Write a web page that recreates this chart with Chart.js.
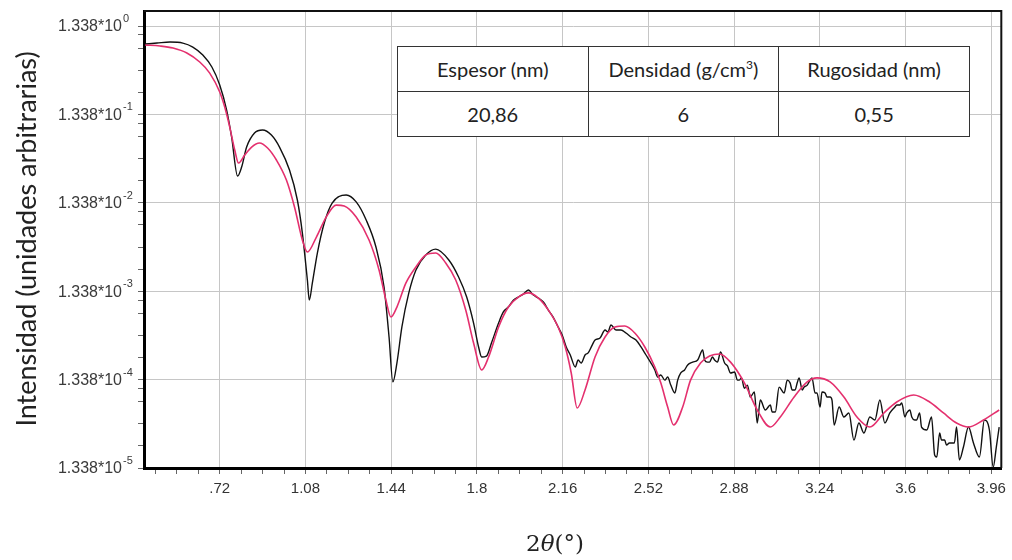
<!DOCTYPE html>
<html>
<head>
<meta charset="utf-8">
<script src="https://cdn.jsdelivr.net/npm/chart.js@4.4.0/dist/chart.umd.min.js"></script>
<style>
  body { margin: 0; background: #fff; }
  #wrap { position: relative; width: 1012px; height: 560px; }
  #props {
    position: absolute; left: 397px; top: 46px; width: 573px; height: 91px;
    border-collapse: collapse; background: #fff;
    font-family: Lato, "Open Sans", sans-serif; font-size: 20px; color: #222;
  }
  #props td { border: 1.5px solid #333; text-align: center; padding: 0; width: 191px; }
  #props sup { font-size: 12px; vertical-align: 8px; line-height: 0; }
</style>
</head>
<body>
<div id="wrap">
  <canvas id="myChart" width="1012" height="560"></canvas>
  <table id="props"></table>
</div>
<script>
//Selecting Elements
const ctx = document.getElementById("myChart").getContext("2d");
const propsTable = document.getElementById("props");

//Axis setup
const xTickLabels = [0.72, 1.08, 1.44, 1.8, 2.16, 2.52, 2.88, 3.24, 3.6, 3.96];
const xMinorStep = 0.09;
const xRange = [0.402, 4.002];
const yMantissa = 1.338;
const yExponents = [0, -1, -2, -3, -4, -5];
const yMax = 1.98;

//Fitted layer
const tableHeaders = ["Espesor (nm)", "Densidad (g/cm<sup>3</sup>)", "Rugosidad (nm)"];
const tableValues = ["20,86", "6", "0,55"];

//Simulated curve (fit)
const fitX = [
  0.407, 0.469, 0.524, 0.582, 0.636, 0.678, 0.720, 0.741, 0.762, 0.783,
  0.799, 0.825, 0.854, 0.887, 0.921, 0.958, 1.000, 1.034, 1.067, 1.088,
  1.126, 1.167, 1.209, 1.243, 1.293, 1.347, 1.389, 1.418, 1.439, 1.464,
  1.502, 1.544, 1.585, 1.627, 1.669, 1.711, 1.753, 1.786, 1.820, 1.849,
  1.891, 1.932, 1.974, 2.016, 2.058, 2.100, 2.141, 2.171, 2.196, 2.221,
  2.254, 2.296, 2.338, 2.380, 2.421, 2.463, 2.505, 2.547, 2.572, 2.601,
  2.626, 2.664, 2.697, 2.739, 2.777, 2.819, 2.865, 2.923, 2.977, 3.032,
  3.074, 3.132, 3.187, 3.228, 3.283, 3.341, 3.396, 3.450, 3.509, 3.563,
  3.634, 3.701, 3.759, 3.814, 3.864, 3.927, 3.993
];
const fitY = [
  0.816, 0.795, 0.754, 0.663, 0.524, 0.393, 0.240, 0.162, 0.0963, 0.0529,
  0.0377, 0.0465, 0.0572, 0.0635, 0.0558, 0.0408, 0.0242, 0.0120, 0.00508, 0.00371,
  0.00549, 0.00923, 0.0126, 0.0123, 0.00923, 0.00508, 0.00233, 0.00106, 0.000683, 0.000886,
  0.00166, 0.00252, 0.00344, 0.00362, 0.00279, 0.00179, 0.000819, 0.000347, 0.000172, 0.000241,
  0.000527, 0.000886, 0.00115, 0.00128, 0.00112, 0.000819, 0.000527, 0.000313, 0.000159, 0.0000639,
  0.000102, 0.000241, 0.000406, 0.000527, 0.000540, 0.000450, 0.000313, 0.000186, 0.000123, 0.0000655,
  0.0000410, 0.0000655, 0.000132, 0.000206, 0.000247, 0.000261, 0.000211, 0.000123, 0.0000606, 0.0000389,
  0.0000505, 0.0000850, 0.000126, 0.000140, 0.000126, 0.0000850, 0.0000505, 0.0000389, 0.0000561, 0.0000747,
  0.0000896, 0.0000747, 0.0000561, 0.0000432, 0.0000389, 0.0000467, 0.0000606
];

//Measured curve
const measX = [
  0.407, 0.457, 0.511, 0.565, 0.607, 0.649, 0.687, 0.720, 0.749, 0.770,
  0.795, 0.812, 0.833, 0.866, 0.900, 0.937, 0.971, 1.013, 1.046, 1.067,
  1.088, 1.096, 1.109, 1.130, 1.159, 1.192, 1.251, 1.293, 1.335, 1.376,
  1.410, 1.431, 1.447, 1.464, 1.485, 1.514, 1.544, 1.585, 1.627, 1.682,
  1.723, 1.757, 1.786, 1.807, 1.820, 1.840, 1.861, 1.891, 1.911, 1.932,
  1.953, 1.974, 1.995, 2.016, 2.037, 2.058, 2.079, 2.100, 2.120, 2.141,
  2.158, 2.175, 2.192, 2.213, 2.225, 2.238, 2.254, 2.267, 2.284, 2.296,
  2.317, 2.338, 2.350, 2.363, 2.384, 2.405, 2.426, 2.447, 2.468, 2.489,
  2.510, 2.531, 2.547, 2.559, 2.572, 2.589, 2.601, 2.614, 2.631, 2.643,
  2.656, 2.672, 2.685, 2.706, 2.727, 2.748, 2.768, 2.789, 2.810, 2.823,
  2.840, 2.852, 2.865, 2.882, 2.894, 2.911, 2.923, 2.936, 2.948, 2.965,
  2.977, 2.990, 3.011, 3.032, 3.053, 3.069, 3.090, 3.103, 3.124, 3.145,
  3.166, 3.187, 3.207, 3.220, 3.241, 3.262, 3.283, 3.300, 3.321, 3.341,
  3.362, 3.383, 3.404, 3.425, 3.450, 3.471, 3.492, 3.513, 3.534, 3.555,
  3.576, 3.597, 3.618, 3.638, 3.659, 3.689, 3.709, 3.731, 3.751, 3.772,
  3.793, 3.814, 3.826, 3.843, 3.864, 3.885, 3.910, 3.931, 3.952, 3.968,
  3.981, 3.993
];
const measY = [
  0.837, 0.859, 0.882, 0.859, 0.774, 0.629, 0.460, 0.288, 0.150, 0.0742,
  0.0269, 0.0340, 0.0572, 0.0824, 0.0892, 0.0782, 0.0572, 0.0314, 0.0144, 0.00609,
  0.00179, 0.00106, 0.00166, 0.00362, 0.00790, 0.0133, 0.0164, 0.0137, 0.00855, 0.00423,
  0.00149, 0.000406, 0.000126, 0.000206, 0.000527, 0.00128, 0.00233, 0.00344, 0.00401, 0.00302,
  0.00194, 0.00115, 0.000584, 0.000313, 0.000241, 0.000247, 0.000347, 0.000584, 0.000779, 0.000886,
  0.00106, 0.00115, 0.00124, 0.00138, 0.00121, 0.00112, 0.00101, 0.000819, 0.000683, 0.000527,
  0.000428, 0.000313, 0.000254, 0.000186, 0.000223, 0.000206, 0.000254, 0.000268, 0.000329, 0.000375,
  0.000396, 0.000487, 0.000462, 0.000555, 0.000487, 0.000487, 0.000450, 0.000406, 0.000375, 0.000313,
  0.000254, 0.000206, 0.000172, 0.000143, 0.000151, 0.000132, 0.000143, 0.000116, 0.0000943, 0.000132,
  0.000159, 0.000172, 0.000196, 0.000211, 0.000223, 0.000289, 0.000211, 0.000241, 0.000211, 0.000275,
  0.000206, 0.000191, 0.000159, 0.000163, 0.000132, 0.000140, 0.000107, 0.000116, 0.0000850, 0.0000969,
  0.0000432, 0.0000786, 0.0000606, 0.0000691, 0.0000575, 0.000110, 0.0000943, 0.000132, 0.000102, 0.000123,
  0.000102, 0.000116, 0.000140, 0.0000943, 0.0000655, 0.0000943, 0.0000850, 0.0000410, 0.0000655, 0.0000505,
  0.0000561, 0.0000277, 0.0000432, 0.0000333, 0.0000505, 0.0000467, 0.0000786, 0.0000432, 0.0000561, 0.0000655,
  0.0000691, 0.0000505, 0.0000606, 0.0000467, 0.0000561, 0.0000360, 0.0000505, 0.0000178, 0.0000277, 0.0000243,
  0.0000257, 0.0000389, 0.0000165, 0.0000231, 0.0000389, 0.0000257, 0.0000178, 0.0000467, 0.0000360, 0.0000137,
  0.0000231, 0.0000389
];
//extra readings in the noisy tail, merged in by x
const measTailX = [
  2.756, 2.777, 2.798, 2.902, 3.040, 3.115, 3.136, 3.153, 3.174, 3.195,
  3.228, 3.249, 3.270, 3.291, 3.563, 3.584, 3.605, 3.626, 3.646, 3.667,
  3.722, 3.743, 3.764, 3.784, 3.805
];
const measTailY = [
  0.000223, 0.000211, 0.000223, 0.000132, 0.0000575, 0.000123, 0.000102, 0.000140, 0.000110, 0.000126,
  0.0000943, 0.0000969, 0.0000850, 0.0000786, 0.0000691, 0.0000727, 0.0000561, 0.0000505, 0.0000467, 0.0000389,
  0.0000188, 0.0000333, 0.0000277, 0.0000257, 0.0000257
];

//Rendering the parameter table
let temp = "<tr>";
for (let i = 0; i < tableHeaders.length; i++) temp += `<td>${tableHeaders[i]}</td>`;
temp += "</tr><tr>";
for (let i = 0; i < tableValues.length; i++) temp += `<td>${tableValues[i]}</td>`;
temp += "</tr>";
propsTable.innerHTML = temp;

//Tick helpers
function isMajorX(v) {
  return xTickLabels.some((t) => Math.abs(t - v) < 1e-6);
}
function isMajorY(v) {
  const e = Math.log10(v / yMantissa);
  return Math.abs(e - Math.round(e)) < 1e-6;
}
function xTicks() {
  const list = [];
  for (let k = Math.ceil(xRange[0] / xMinorStep); k * xMinorStep <= xRange[1]; k++) {
    list.push({ value: +(k * xMinorStep).toFixed(2) });
  }
  return list;
}
function yTicks() {
  const list = [];
  for (let i = 0; i < yExponents.length; i++) {
    const e = yExponents[i];
    list.push({ value: yMantissa * Math.pow(10, e) });
    if (e > yExponents[yExponents.length - 1]) {
      [0.1, 0.25, 0.5, 0.75].forEach((o) => list.push({ value: yMantissa * Math.pow(10, e - o) }));
    }
  }
  return list.sort((a, b) => a.value - b.value);
}
function toPoints(xs, ys) {
  const pts = [];
  for (let i = 0; i < xs.length; i++) pts.push({ x: xs[i], y: ys[i] });
  return pts;
}
const measPoints = toPoints(measX, measY)
  .concat(toPoints(measTailX, measTailY))
  .sort((a, b) => a.x - b.x);

//Frame, y labels with exponents and axis titles
const decor = {
  id: "decor",
  afterDraw(chart) {
    const c = chart.ctx;
    const area = chart.chartArea;
    const yScale = chart.scales.y;
    c.save();
    c.strokeStyle = "#111";
    c.lineWidth = 2;
    c.beginPath();
    c.moveTo(area.left, area.top);
    c.lineTo(area.right, area.top);
    c.lineTo(area.right, area.bottom);
    c.stroke();

    c.fillStyle = "#3a3a3a";
    c.textBaseline = "middle";
    yExponents.forEach((e) => {
      const py = yScale.getPixelForValue(yMantissa * Math.pow(10, e));
      c.font = "16px 'Liberation Sans', Arial, sans-serif";
      c.textAlign = "right";
      c.fillText("1.338*10", 122, py + 1);
      c.font = "11px 'Liberation Sans', Arial, sans-serif";
      c.textAlign = "left";
      c.fillText(String(e), 123, py - 7);
    });

    //y title
    c.fillStyle = "#222";
    c.save();
    c.translate(27, 239);
    c.rotate(-Math.PI / 2);
    c.font = "27px Lato, 'Open Sans', sans-serif";
    c.textAlign = "center";
    c.fillText("Intensidad (unidades arbitrarias)", 0, 0);
    c.restore();

    //x title: 2θ(°) with italic theta
    const parts = [
      ["2", "23px 'DejaVu Serif', serif"],
      ["\u03B8", "italic 23px 'DejaVu Serif', serif"],
      ["(\u00B0)", "23px 'DejaVu Serif', serif"],
    ];
    let total = 0;
    parts.forEach((p) => { c.font = p[1]; total += c.measureText(p[0]).width; });
    let px = 555 - total / 2;
    c.textAlign = "left";
    parts.forEach((p) => {
      c.font = p[1];
      c.fillText(p[0], px, 545);
      px += c.measureText(p[0]).width;
    });
    c.restore();
  },
};

//Rendering Chart
const config = {
  type: "line",
  data: {
    datasets: [
      {
        label: "Simulación",
        data: toPoints(fitX, fitY),
        borderColor: "#e4306e",
        borderWidth: 1.6,
        pointRadius: 0,
        cubicInterpolationMode: "monotone",
        order: 0,
      },
      {
        label: "Medida",
        data: measPoints,
        borderColor: "#111",
        borderWidth: 1.4,
        pointRadius: 0,
        cubicInterpolationMode: "monotone",
        order: 1,
      },
    ],
  },
  options: {
    responsive: false,
    animation: false,
    devicePixelRatio: 1,
    layout: { padding: { left: 0, right: 8, top: 11, bottom: 0 } },
    plugins: { legend: { display: false }, tooltip: { enabled: false } },
    scales: {
      x: {
        type: "linear",
        min: xRange[0],
        max: xRange[1],
        afterBuildTicks: (s) => { s.ticks = xTicks(); },
        afterFit: (s) => { s.height = 92; },
        border: { color: "#000", width: 3 },
        grid: {
          color: (c) => (c.tick && isMajorX(c.tick.value) ? "#c6c6c6" : "rgba(0,0,0,0)"),
          tickColor: "#666",
          tickLength: 6,
        },
        ticks: {
          autoSkip: false,
          maxRotation: 0,
          padding: 6,
          color: "#333",
          font: { family: "'Liberation Sans', Arial, sans-serif", size: 15 },
          callback: (v) => (isMajorX(v) ? String(+v.toFixed(2)).replace(/^0\./, ".") : ""),
        },
      },
      y: {
        type: "logarithmic",
        min: yMantissa * Math.pow(10, yExponents[yExponents.length - 1]),
        max: yMax,
        afterBuildTicks: (s) => { s.ticks = yTicks(); },
        afterFit: (s) => { s.width = 144; },
        border: { color: "#000", width: 3 },
        grid: {
          color: (c) => (c.tick && isMajorY(c.tick.value) ? "#c6c6c6" : "rgba(0,0,0,0)"),
          tickColor: "#666",
          tickLength: 6,
        },
        ticks: { autoSkip: false, callback: () => "" },
      },
    },
  },
  plugins: [decor],
};

const myChart = new Chart(ctx, config);
</script>
</body>
</html>
